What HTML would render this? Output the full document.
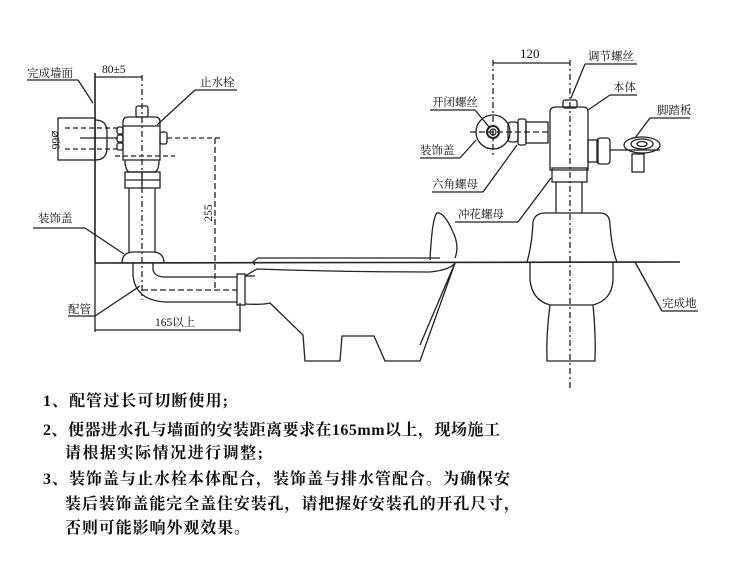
<!DOCTYPE html>
<html><head><meta charset="utf-8"><style>
html,body{margin:0;padding:0;background:#fff;}
svg{display:block}
text{font-family:"Liberation Serif","Noto Serif CJK SC","Noto Sans CJK SC",serif;fill:#111}
.t{font-size:16px;font-weight:bold}
.l{font-size:11.5px}
</style></head><body>
<svg width="750" height="562" viewBox="0 0 750 562" xmlns="http://www.w3.org/2000/svg">
<g fill="none" stroke="#222" stroke-width="1.3">
<line x1="95" y1="73" x2="95" y2="263" stroke-width="1.6"/>
<line x1="95" y1="263" x2="680" y2="262" stroke-width="1.6"/>
<line x1="95" y1="77" x2="142" y2="77"/>
<line x1="142" y1="75" x2="142" y2="300" stroke-dasharray="6,3,2,3"/>
<rect x="58" y="118" width="37" height="42"/>
<path d="M95,120 Q107,120 107,132 L107,148 Q107,160 95,160"/>
<line x1="65" y1="128" x2="120" y2="128" stroke-dasharray="5,3"/>
<line x1="65" y1="149" x2="120" y2="149" stroke-dasharray="5,3"/>
<line x1="80" y1="138" x2="118" y2="138"/>
<rect x="136" y="106" width="12" height="11" rx="2"/>
<path d="M123,160 L123,122 Q123,117 128,117 L155,117 Q160,117 160,122 L160,160 Z"/>
<line x1="123" y1="126" x2="160" y2="126"/>
<rect x="117" y="127" width="6" height="7" rx="2"/><rect x="117" y="135" width="6" height="7" rx="2"/><rect x="117" y="143" width="6" height="7" rx="2"/>
<rect x="160" y="132" width="7" height="12" rx="2"/>
<line x1="167" y1="138" x2="220" y2="138" stroke-dasharray="5,3"/>
<line x1="115" y1="156" x2="175" y2="156" stroke-dasharray="5,3"/>
<path d="M125,160 Q125,170 129,172 L155,172 Q159,170 159,160"/>
<rect x="125" y="172" width="35" height="16"/>
<line x1="125" y1="180" x2="160" y2="180"/>
<line x1="142" y1="172" x2="142" y2="188"/>
<line x1="129" y1="188" x2="129" y2="253"/><line x1="155" y1="188" x2="155" y2="253"/>
<path d="M122,263 Q122,253 132,252 L154,252 Q164,253 164,263"/>
<path d="M133,263 L133,275 Q135,300 165,302 L237,302"/>
<path d="M153,263 L153,270 Q155,277 165,277 L237,277"/>
<line x1="142" y1="290" x2="237" y2="290" stroke-dasharray="6,3"/>
<rect x="237" y="274" width="8" height="31"/>
<line x1="245" y1="276" x2="255" y2="276"/>
<line x1="215" y1="138" x2="215" y2="290" stroke-dasharray="6,3"/>
<line x1="95" y1="263" x2="95" y2="332"/>
<line x1="240" y1="303" x2="240" y2="332"/>
<line x1="95" y1="330" x2="240" y2="330"/>
<path d="M245,304 Q262,305 270,303 L303,335 L305,361 L340,361 L342,336 L374,336 L385,361 L420,361 L455,263"/>
<path d="M255,265 L253,262 L258,258 L440,258"/>
<path d="M430,260 Q432,218 437,213 Q444,212 452,230 Q460,245 455,258"/>
<path d="M245,276 L257,269 Q340,272 430,272 Q450,270 455,263"/>
<line x1="27" y1="80" x2="78" y2="80"/><line x1="78" y1="80" x2="93" y2="103"/>
<line x1="195" y1="90" x2="237" y2="90"/><line x1="195" y1="90" x2="157" y2="125"/>
<line x1="33" y1="228" x2="85" y2="228"/><line x1="85" y1="228" x2="124" y2="254"/>
<line x1="68" y1="316" x2="95" y2="316"/><line x1="95" y1="316" x2="140" y2="286"/>
<line x1="570" y1="60" x2="570" y2="390" stroke-dasharray="6,3,2,3"/>
<line x1="493" y1="60" x2="493" y2="155" stroke-dasharray="6,3,2,3"/>
<line x1="493" y1="63" x2="570" y2="63"/>
<circle cx="493" cy="132" r="17"/><circle cx="493" cy="132" r="6" stroke-width="2"/><circle cx="493" cy="132" r="3"/>
<line x1="470" y1="132" x2="548" y2="132" stroke-dasharray="6,3"/>
<rect x="508" y="122" width="10" height="20" rx="3"/>
<rect x="518" y="119" width="8" height="26" rx="2"/>
<rect x="526" y="122" width="22" height="21"/>
<rect x="563" y="100" width="14" height="8" rx="2"/>
<path d="M550,170 L550,112 Q550,107 556,107 L583,107 Q588,107 588,112 L588,170 Z"/>
<rect x="588" y="140" width="10" height="22"/>
<rect x="597" y="138" width="13" height="26" rx="3"/>
<line x1="610" y1="150" x2="660" y2="150"/>
<ellipse cx="642" cy="145" rx="18" ry="8"/><ellipse cx="642" cy="144" rx="11" ry="5"/><ellipse cx="642" cy="144" rx="5" ry="2.5"/>
<rect x="632" y="154" width="12" height="18"/>
<rect x="552" y="168" width="35" height="14"/>
<line x1="556" y1="182" x2="556" y2="213"/><line x1="582" y1="182" x2="582" y2="213"/>
<path d="M527,262 Q532,245 533,222 Q535,213 545,213 L600,213 Q610,213 610,225 Q612,250 617,262"/>
<path d="M530,262 L530,280 Q532,300 550,305 L593,305 Q612,300 613,280 L613,262"/>
<path d="M550,305 Q546,335 547,361 L595,361 Q596,335 593,305"/>
<line x1="585" y1="64" x2="637" y2="64"/><line x1="585" y1="64" x2="571" y2="98"/>
<line x1="610" y1="95" x2="637" y2="95"/><line x1="610" y1="95" x2="588" y2="110"/>
<line x1="650" y1="118" x2="690" y2="118"/><line x1="650" y1="118" x2="635" y2="138"/>
<line x1="430" y1="110" x2="475" y2="110"/><line x1="475" y1="110" x2="490" y2="128"/>
<line x1="420" y1="158" x2="460" y2="158"/><line x1="460" y1="158" x2="476" y2="140"/>
<line x1="432" y1="192" x2="483" y2="192"/><line x1="483" y1="192" x2="517" y2="145"/>
<line x1="455" y1="222" x2="518" y2="222"/><line x1="518" y1="222" x2="551" y2="178"/>
<line x1="662" y1="311" x2="698" y2="311"/><line x1="662" y1="311" x2="635" y2="262"/>
<line x1="455" y1="263" x2="420" y2="345"/>
</g>
<g class="l">
<text x="27" y="77">完成墙面</text>
<text x="102" y="73">80±5</text>
<text x="200" y="86">止水栓</text>
<text x="38" y="222">装饰盖</text>
<text x="68" y="313">配管</text>
<text x="155" y="326">165以上</text>
<text transform="translate(52,140) rotate(90)" text-anchor="middle">⌀66</text>
<text transform="translate(212,213) rotate(-90)" text-anchor="middle">255</text>
<text x="520" y="58" font-size="13">120</text>
<text x="588" y="60">调节螺丝</text>
<text x="613" y="91">本体</text>
<text x="657" y="114">脚踏板</text>
<text x="432" y="106">开闭螺丝</text>
<text x="420" y="154">装饰盖</text>
<text x="432" y="188">六角螺母</text>
<text x="458" y="218">冲花螺母</text>
<text x="662" y="307">完成地</text>
</g>
<g class="t">
<text x="43" y="406" textLength="185">1、配管过长可切断使用;</text>
<text x="43" y="435" textLength="457">2、便器进水孔与墙面的安装距离要求在165mm以上，现场施工</text>
<text x="65" y="458" textLength="198">请根据实际情况进行调整;</text>
<text x="43" y="484" textLength="467">3、装饰盖与止水栓本体配合，装饰盖与排水管配合。为确保安</text>
<text x="65" y="509" textLength="455">装后装饰盖能完全盖住安装孔，请把握好安装孔的开孔尺寸，</text>
<text x="65" y="533" textLength="185">否则可能影响外观效果。</text>
</g>
</svg>
</body></html>
